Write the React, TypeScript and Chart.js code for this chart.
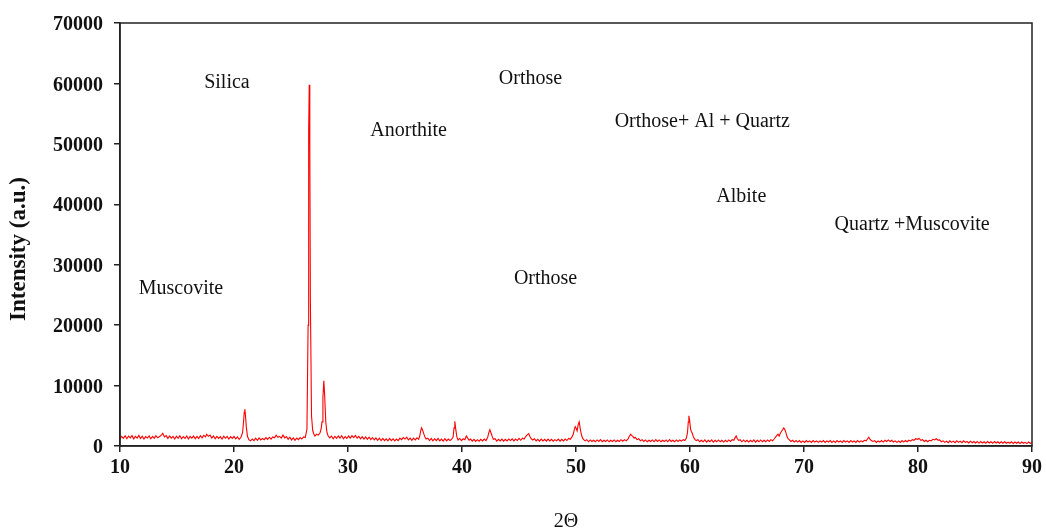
import React, { useEffect, useRef } from "react";
import { Chart, registerables } from "chart.js";

Chart.register(...registerables);

const scan10to30: [number, number][] = [
  [10.0, 1150], [10.15, 1600], [10.3, 1280], [10.45, 1700], [10.6, 1200], [10.75, 1650], [10.9, 1350], [11.05, 1720],
  [11.2, 1180], [11.35, 1580], [11.5, 1300], [11.65, 1750], [11.8, 1250], [11.95, 1620], [12.1, 1150], [12.25, 1560],
  [12.4, 1320], [12.55, 1680], [12.7, 1200], [12.85, 1600], [13.0, 1260], [13.15, 1700], [13.3, 1350], [13.5, 1600],
  [13.65, 1850], [13.75, 2100], [13.9, 1500], [14.05, 1720], [14.2, 1250], [14.35, 1650], [14.5, 1300], [14.65, 1580],
  [14.8, 1150], [14.95, 1620], [15.1, 1280], [15.25, 1700], [15.4, 1200], [15.55, 1550], [15.7, 1250], [15.85, 1650],
  [16.0, 1150], [16.15, 1580], [16.3, 1300], [16.45, 1650], [16.6, 1200], [16.75, 1600], [16.9, 1250], [17.05, 1700],
  [17.2, 1350], [17.35, 1750], [17.5, 1500], [17.6, 1950], [17.75, 1600], [17.9, 1800], [18.05, 1300], [18.2, 1650],
  [18.35, 1200], [18.5, 1600], [18.65, 1250], [18.8, 1550], [18.95, 1150], [19.1, 1620], [19.25, 1280], [19.4, 1580],
  [19.55, 1150], [19.7, 1550], [19.85, 1250], [20.0, 1600], [20.15, 1200], [20.3, 1520], [20.45, 1100], [20.6, 1400],
  [20.75, 2200], [20.82, 3600], [20.9, 5600], [20.95, 6100], [21.0, 5200], [21.08, 3200], [21.18, 1600], [21.3, 1050],
  [21.45, 850], [21.6, 1150], [21.75, 900], [21.9, 1300], [22.05, 950], [22.2, 1350], [22.35, 1000], [22.5, 1250],
  [22.65, 1050], [22.8, 1400], [22.95, 1100], [23.1, 1450], [23.25, 1150], [23.4, 1500], [23.55, 1350], [23.7, 1800],
  [23.85, 1450], [24.0, 1600], [24.15, 1300], [24.3, 1800], [24.45, 1350], [24.6, 1550], [24.75, 1100], [24.9, 1450],
  [25.05, 1000], [25.2, 1350], [25.35, 950], [25.5, 1300], [25.65, 1050], [25.8, 1400], [25.95, 1150], [26.1, 1500],
  [26.25, 1400], [26.4, 2800], [26.5, 20000], [26.55, 52000], [26.6, 59800], [26.65, 50000], [26.7, 24000], [26.8, 5000],
  [26.9, 2600], [27.0, 2000], [27.1, 1650], [27.25, 1950], [27.4, 1800], [27.55, 2200], [27.65, 2900], [27.72, 4000],
  [27.8, 8000], [27.88, 10800], [27.95, 8500], [28.05, 4000], [28.15, 2300], [28.25, 1700], [28.4, 1350], [28.55, 1650],
  [28.7, 1200], [28.85, 1600], [29.0, 1250], [29.15, 1650], [29.3, 1300], [29.45, 1700], [29.6, 1200], [29.75, 1550],
  [29.9, 1250],
];

const scan30to50: [number, number][] = [
  [30.05, 1650], [30.2, 1300], [30.35, 1700], [30.5, 1400], [30.65, 1750], [30.8, 1300], [30.95, 1600], [31.1, 1200],
  [31.25, 1550], [31.4, 1150], [31.55, 1500], [31.7, 1100], [31.85, 1450], [32.0, 1050], [32.15, 1400], [32.3, 1000],
  [32.45, 1350], [32.6, 950], [32.75, 1300], [32.9, 900], [33.05, 1250], [33.2, 900], [33.35, 1200], [33.5, 850],
  [33.65, 1250], [33.8, 900], [33.95, 1200], [34.1, 850], [34.25, 1150], [34.4, 900], [34.55, 1300], [34.7, 1050],
  [34.85, 1400], [35.0, 1150], [35.15, 1450], [35.3, 1000], [35.45, 1300], [35.6, 950], [35.75, 1300], [35.9, 1000],
  [36.05, 1350], [36.2, 1100], [36.3, 1700], [36.38, 2500], [36.45, 3000], [36.55, 2600], [36.65, 2000], [36.75, 1500],
  [36.85, 1150], [37.0, 1300], [37.15, 900], [37.3, 1250], [37.45, 850], [37.6, 1200], [37.75, 900], [37.9, 1250],
  [38.05, 850], [38.2, 1150], [38.35, 800], [38.5, 1200], [38.65, 850], [38.8, 1150], [38.95, 900], [39.1, 1150],
  [39.22, 1500], [39.3, 3000], [39.37, 4100], [39.45, 2800], [39.55, 1500], [39.65, 1000], [39.8, 1250], [39.95, 900],
  [40.1, 1200], [40.25, 1050], [40.38, 1650], [40.5, 1300], [40.62, 950], [40.75, 1150], [40.9, 800], [41.05, 1100],
  [41.2, 750], [41.35, 1050], [41.5, 800], [41.65, 1100], [41.8, 850], [41.95, 1150], [42.1, 900], [42.25, 1400],
  [42.35, 2200], [42.45, 2700], [42.55, 2100], [42.65, 1600], [42.75, 1100], [42.9, 1200], [43.05, 800], [43.2, 1100],
  [43.35, 850], [43.5, 1150], [43.65, 800], [43.8, 1100], [43.95, 850], [44.1, 1150], [44.25, 900], [44.4, 1200],
  [44.55, 850], [44.7, 1150], [44.85, 900], [45.0, 1250], [45.15, 950], [45.3, 1300], [45.45, 1150], [45.6, 1600],
  [45.72, 1850], [45.85, 2050], [45.95, 1600], [46.05, 1250], [46.2, 1000], [46.35, 1200], [46.5, 850], [46.65, 1100],
  [46.8, 800], [46.95, 1150], [47.1, 850], [47.25, 1100], [47.4, 800], [47.55, 1150], [47.7, 850], [47.85, 1100],
  [48.0, 800], [48.15, 1050], [48.3, 850], [48.45, 1150], [48.6, 800], [48.75, 1100], [48.9, 850], [49.05, 1150],
  [49.2, 900], [49.35, 1250], [49.5, 1100], [49.65, 1500], [49.75, 1900], [49.85, 2700], [49.93, 3200],
];

const scan50to70: [number, number][] = [
  [50.02, 2900], [50.1, 2500], [50.2, 3600], [50.28, 4000], [50.36, 3000], [50.45, 2100], [50.55, 1400], [50.65, 1100],
  [50.8, 850], [50.95, 1050], [51.1, 700], [51.25, 1000], [51.4, 750], [51.55, 950], [51.7, 700], [51.85, 1000],
  [52.0, 750], [52.15, 1050], [52.3, 700], [52.45, 950], [52.6, 750], [52.75, 1000], [52.9, 700], [53.05, 950],
  [53.2, 750], [53.35, 1000], [53.5, 700], [53.65, 950], [53.8, 750], [53.95, 1050], [54.1, 800], [54.25, 1050],
  [54.4, 850], [54.55, 1150], [54.68, 1600], [54.8, 1950], [54.9, 1700], [55.0, 1550], [55.1, 1300], [55.2, 1450],
  [55.35, 1050], [55.5, 1200], [55.65, 850], [55.8, 1050], [55.95, 750], [56.1, 1000], [56.25, 700], [56.4, 950],
  [56.55, 750], [56.7, 1000], [56.85, 700], [57.0, 1050], [57.15, 750], [57.3, 1000], [57.45, 700], [57.6, 950],
  [57.75, 750], [57.9, 1000], [58.05, 700], [58.2, 1050], [58.35, 750], [58.5, 950], [58.65, 700], [58.8, 1000],
  [58.95, 750], [59.1, 1000], [59.25, 800], [59.4, 1050], [59.55, 900], [59.68, 1300], [59.78, 2200], [59.85, 4000],
  [59.9, 5000], [59.97, 4200], [60.05, 2800], [60.12, 2400], [60.2, 2100], [60.3, 1500], [60.42, 1100], [60.55, 900],
  [60.7, 1050], [60.85, 700], [61.0, 950], [61.15, 700], [61.3, 1000], [61.45, 650], [61.6, 950], [61.75, 700],
  [61.9, 1000], [62.05, 650], [62.2, 950], [62.35, 700], [62.5, 1000], [62.65, 700], [62.8, 950], [62.95, 650],
  [63.1, 950], [63.25, 700], [63.4, 1000], [63.55, 750], [63.7, 1050], [63.85, 950], [63.95, 1350], [64.05, 1650],
  [64.15, 1200], [64.28, 900], [64.4, 1050], [64.55, 700], [64.7, 1000], [64.85, 700], [65.0, 950], [65.15, 650],
  [65.3, 950], [65.45, 700], [65.6, 1000], [65.75, 650], [65.9, 950], [66.05, 700], [66.2, 1000], [66.35, 700],
  [66.5, 950], [66.65, 700], [66.8, 1000], [66.95, 750], [67.1, 1050], [67.25, 850], [67.4, 1200], [67.52, 1500],
  [67.62, 1750], [67.72, 1950], [67.82, 1650], [67.92, 2100], [68.02, 2400], [68.12, 2700], [68.22, 3000], [68.3, 2800],
  [68.4, 2300], [68.5, 1600], [68.6, 1200], [68.72, 1000], [68.85, 750], [69.0, 950], [69.15, 650], [69.3, 900],
  [69.45, 650], [69.6, 900], [69.75, 600], [69.9, 850],
];

const scan70to90: [number, number][] = [
  [70.05, 600], [70.2, 900], [70.35, 650], [70.5, 850], [70.65, 600], [70.8, 900], [70.95, 650], [71.1, 850],
  [71.25, 600], [71.4, 850], [71.55, 650], [71.7, 900], [71.85, 600], [72.0, 850], [72.15, 650], [72.3, 900],
  [72.45, 600], [72.6, 850], [72.75, 600], [72.9, 900], [73.05, 650], [73.2, 850], [73.35, 600], [73.5, 900],
  [73.65, 650], [73.8, 850], [73.95, 600], [74.1, 900], [74.25, 650], [74.4, 850], [74.55, 600], [74.7, 900],
  [74.85, 650], [75.0, 850], [75.15, 700], [75.3, 950], [75.45, 850], [75.58, 1200], [75.68, 1450], [75.78, 1150],
  [75.9, 900], [76.05, 750], [76.2, 900], [76.35, 600], [76.5, 850], [76.65, 650], [76.8, 900], [76.95, 650],
  [77.1, 950], [77.25, 750], [77.4, 1000], [77.55, 750], [77.7, 950], [77.85, 650], [78.0, 850], [78.15, 600],
  [78.3, 850], [78.45, 600], [78.6, 900], [78.75, 650], [78.9, 900], [79.05, 700], [79.2, 950], [79.35, 800],
  [79.5, 1050], [79.65, 950], [79.8, 1200], [79.95, 1100], [80.1, 1250], [80.25, 950], [80.4, 1050], [80.55, 750],
  [80.7, 950], [80.85, 700], [81.0, 950], [81.15, 850], [81.3, 1100], [81.45, 1000], [81.6, 1200], [81.75, 950],
  [81.9, 1000], [82.05, 700], [82.2, 850], [82.35, 600], [82.5, 800], [82.65, 550], [82.8, 850], [82.95, 600],
  [83.1, 800], [83.25, 550], [83.4, 850], [83.55, 600], [83.7, 800], [83.85, 550], [84.0, 850], [84.15, 600],
  [84.3, 750], [84.45, 500], [84.6, 800], [84.75, 550], [84.9, 750], [85.05, 500], [85.2, 750], [85.35, 450],
  [85.5, 750], [85.65, 500], [85.8, 700], [85.95, 450], [86.1, 750], [86.25, 500], [86.4, 700], [86.55, 450],
  [86.7, 750], [86.85, 500], [87.0, 700], [87.15, 450], [87.3, 700], [87.45, 450], [87.6, 700], [87.75, 450],
  [87.9, 650], [88.05, 450], [88.2, 700], [88.35, 400], [88.5, 650], [88.65, 450], [88.8, 650], [88.95, 400],
  [89.1, 650], [89.25, 450], [89.4, 600], [89.55, 400], [89.7, 650], [89.85, 450], [90.0, 550],
];

// Phase labels: text, 2θ position, intensity position
const phaseNames = ["Muscovite", "Silica", "Anorthite", "Orthose", "Orthose+ Al + Quartz", "Albite", "Quartz +Muscovite", "Orthose"];
const phaseAt2Theta = [15.35, 19.38, 35.32, 46.01, 61.08, 64.5, 79.49, 47.33];
const phaseAtIntensity = [25980, 60070, 52130, 60730, 53620, 41200, 36570, 27640];

const xTitle = "2Θ";
const yTitle = "Intensity (a.u.)";
const xMin = 10, xMax = 90, xStep = 10;
const yMin = 0, yMax = 70000, yStep = 10000;

const SERIF = "'Liberation Serif', 'Times New Roman', serif";

export default function App() {
  const canvasRef = useRef<HTMLCanvasElement | null>(null);

  useEffect(() => {
    const canvas = canvasRef.current;
    if (!canvas) return;
    const points = [...scan10to30, ...scan30to50, ...scan50to70, ...scan70to90].map(([x, y]) => ({ x, y }));

    const decorations = {
      id: "decorations",
      afterDatasetsDraw(chart: any) {
        const { ctx, chartArea, scales } = chart;
        ctx.save();
        ctx.strokeStyle = "#222";
        ctx.lineWidth = 1.5;
        ctx.strokeRect(chartArea.left, chartArea.top, chartArea.right - chartArea.left, chartArea.bottom - chartArea.top);
        ctx.fillStyle = "#111";
        ctx.font = `20px ${SERIF}`;
        ctx.textAlign = "center";
        ctx.textBaseline = "middle";
        phaseNames.forEach((name, i) => {
          ctx.fillText(name, scales.x.getPixelForValue(phaseAt2Theta[i]), scales.y.getPixelForValue(phaseAtIntensity[i]));
        });
        ctx.font = `20px ${SERIF}`;
        ctx.fillText(xTitle, 566, 522);
        ctx.save();
        ctx.translate(19, 249);
        ctx.rotate(-Math.PI / 2);
        ctx.font = `bold 23px ${SERIF}`;
        ctx.fillText(yTitle, 0, 0);
        ctx.restore();
        ctx.restore();
      },
    };

    const tickFont = { family: SERIF, size: 20, weight: "bold" as const };
    const plain = (v: any) => String(v);

    const chart = new Chart(canvas, {
      type: "line",
      data: {
        datasets: [
          {
            data: points,
            borderColor: "#ff0000",
            borderWidth: 1.1,
            pointRadius: 0,
            tension: 0,
            fill: false,
          },
        ],
      },
      options: {
        animation: false,
        responsive: false,
        maintainAspectRatio: false,
        parsing: false as any,
        layout: { padding: { top: 23, right: 13, left: 0, bottom: 0 } },
        plugins: { legend: { display: false }, tooltip: { enabled: false } },
        scales: {
          x: {
            type: "linear",
            min: xMin,
            max: xMax,
            ticks: { stepSize: xStep, color: "#111", font: tickFont, padding: 4, maxRotation: 0, callback: plain },
            grid: { display: true, drawOnChartArea: false, drawTicks: true, tickLength: 6, color: "#222", lineWidth: 1.5 },
            border: { display: true, color: "#222", width: 1.5 },
            afterFit: (s: any) => { s.height = 85; },
          },
          y: {
            type: "linear",
            min: yMin,
            max: yMax,
            ticks: { stepSize: yStep, color: "#111", font: tickFont, padding: 11, labelOffset: 2, callback: plain },
            grid: { display: true, drawOnChartArea: false, drawTicks: true, tickLength: 6, color: "#222", lineWidth: 1.5 },
            border: { display: true, color: "#222", width: 1.5 },
            afterFit: (s: any) => { s.width = 120; },
          },
        },
      },
      plugins: [decorations],
    });
    return () => chart.destroy();
  }, []);

  return (
    <div style={{ position: "fixed", left: 0, top: 0, width: 1046, height: 531, background: "#fff" }}>
      <canvas ref={canvasRef} width={1046} height={531} style={{ width: 1046, height: 531, display: "block" }} />
    </div>
  );
}
